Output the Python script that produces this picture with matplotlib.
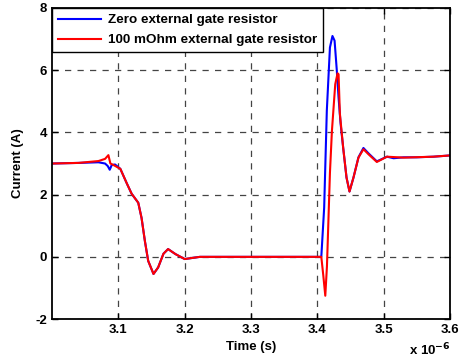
import numpy as np
from matplotlib import pyplot as plt

plt.rcParams['font.family'] = ['Liberation Sans', 'DejaVu Sans']
plt.rcParams['font.weight'] = 'bold'
plt.rcParams['axes.unicode_minus'] = False

# time in units of 1e-6 s
t_blue = [3.000, 3.040, 3.070, 3.080, 3.084, 3.087, 3.090, 3.095, 3.103, 3.113,
          3.120, 3.130, 3.135, 3.140, 3.145, 3.153, 3.160, 3.168, 3.175, 3.186,
          3.200, 3.223, 3.300, 3.406, 3.4103, 3.4143, 3.419, 3.4228, 3.426, 3.4294,
          3.432, 3.435, 3.439, 3.444, 3.4485, 3.4545, 3.462, 3.4695, 3.477, 3.4897,
          3.505, 3.515, 3.530, 3.550, 3.575, 3.600]
i_blue = [3.0, 3.02, 3.04, 3.0, 2.92, 2.80, 2.95, 2.97, 2.83, 2.35,
          2.03, 1.74, 1.25, 0.51, -0.13, -0.55, -0.34, 0.1, 0.25, 0.09,
          -0.07, 0.0, 0.0, 0.0, 1.58, 4.7, 6.73, 7.1, 6.95, 5.98,
          5.12, 4.3, 3.5, 2.55, 2.1, 2.55, 3.2, 3.5, 3.33, 3.07,
          3.22, 3.17, 3.2, 3.2, 3.22, 3.26]

t_red = [3.000, 3.040, 3.070, 3.080, 3.085, 3.088, 3.092, 3.103, 3.113,
         3.120, 3.130, 3.135, 3.140, 3.145, 3.153, 3.160, 3.168, 3.175, 3.186,
         3.200, 3.223, 3.300, 3.406, 3.409, 3.412, 3.4145, 3.4167, 3.419, 3.422,
         3.427, 3.4305, 3.432, 3.434, 3.439, 3.444, 3.4485, 3.4545, 3.462, 3.4695,
         3.477, 3.4897, 3.505, 3.530, 3.575, 3.600]
i_red = [3.0, 3.02, 3.08, 3.15, 3.27, 3.0, 2.96, 2.83, 2.35,
         2.03, 1.74, 1.25, 0.51, -0.13, -0.55, -0.34, 0.1, 0.25, 0.09,
         -0.07, 0.0, 0.0, 0.0, -0.6, -1.25, -0.3, 1.16, 2.7, 4.05,
         5.55, 5.9, 5.87, 4.6, 3.5, 2.55, 2.1, 2.55, 3.19, 3.46,
         3.3, 3.05, 3.22, 3.19, 3.22, 3.26]

fig = plt.figure(figsize=(4.62, 3.63), dpi=100)
ax = fig.add_axes([0.1126, 0.121, 0.8614, 0.857])

ax.plot(t_blue, i_blue, color='#0000ff', lw=1.5, label='Zero external gate resistor')
ax.plot(t_red, i_red, color='#ff0000', lw=1.5, label='100 mOhm external gate resistor')

ax.set_xlim(3.0, 3.6)
ax.set_ylim(-2, 8)
ax.set_xticks([3.1, 3.2, 3.3, 3.4, 3.5, 3.6])
ax.set_xticklabels(['3.1', '3.2', '3.3', '3.4', '3.5', '3.6'])
ax.set_yticks([-2, 0, 2, 4, 6, 8])
ax.tick_params(direction='in', labelsize=9.5, length=4, width=1, top=True, right=True)
for s in ax.spines.values():
    s.set_linewidth(1.3)
ax.grid(True, color='#444444', linestyle=(0, (5, 5)), linewidth=0.9)

ax.set_xlabel('Time (s)', fontsize=9.5, fontweight='bold', labelpad=4)
ax.set_ylabel('Current (A)', fontsize=9.5, fontweight='bold', labelpad=8)
fig.text(0.975, 0.012, r'x 10$^{\mathbf{-6}}$', ha='right', va='bottom', fontsize=9.5, fontweight='bold')

leg = ax.legend(loc='upper left', fontsize=9.7, frameon=True, fancybox=False,
                borderaxespad=0, handlelength=3.2, borderpad=0.45, labelspacing=0.55,
                handletextpad=0.5)
leg.get_frame().set_edgecolor('black')
leg.get_frame().set_linewidth(1.0)
leg.get_frame().set_alpha(1)

fig.savefig('out.png', dpi=100)
